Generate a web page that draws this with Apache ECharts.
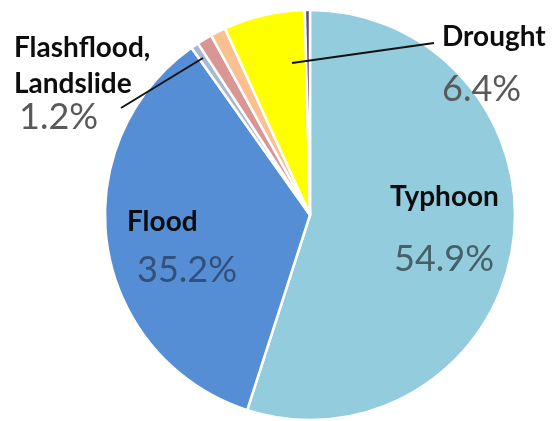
<!DOCTYPE html>
<html>
<head>
<meta charset="utf-8">
<script src="https://cdn.jsdelivr.net/npm/echarts@6/dist/echarts.min.js"></script>
<style>
html,body{margin:0;padding:0;background:#fff;}
#chart{width:554px;height:421px;}
</style>
</head>
<body>
<div id="chart"></div>
<script>
// Data (clockwise from 12 o'clock)
const categories = ['Typhoon', 'Flood', 'Other hazard', 'Flashflood, Landslide', 'Storm surge', 'Drought', 'Other'];
const values = [54.9, 35.2, 0.6, 1.2, 1.2, 6.4, 0.4];
const valueLabels = ['54.9%', '35.2%', '', '1.2%', '', '6.4%', ''];
const shownLabels = ['Typhoon', 'Flood', 'Flashflood, Landslide', 'Drought'];

const colors = ['#93CDDD', '#558ED5', '#A7B9D1', '#D99694', '#FAC090', '#FFFF00', '#604A7B'];

// Label placement (layout only)
const layouts = {
  'Typhoon': { x: 390, y: 179, pad: 4, gapLH: 88 },
  'Flood': { x: 127, y: 204, pad: 10, gapLH: 60 },
  'Flashflood, Landslide': { x: 14, y: 30, pad: 5, gapLH: 30,
    line: [[203, 58], [162, 83], [121, 108]] },
  'Drought': { x: 442, y: 19, pad: 0, gapLH: 68,
    line: [[292, 63], [363, 53], [434, 43]] }
};
const layoutKeys = Object.keys(layouts);

const chart = echarts.init(document.getElementById('chart'), null, { renderer: 'canvas' });

function buildData(forLabels) {
  return categories.map((name, i) => {
    const show = shownLabels.indexOf(name) >= 0;
    const inside = (name === 'Typhoon' || name === 'Flood');
    return {
      name: name,
      value: values[i],
      itemStyle: forLabels ? { color: 'rgba(0,0,0,0)', borderWidth: 0 } : { color: colors[i] },
      label: { show: forLabels && show, position: inside ? 'inside' : 'outside' },
      labelLine: { show: forLabels && show && !inside }
    };
  });
}

function makeRich() {
  const rich = {
    n: { fontFamily: 'Lato', fontWeight: 'bold', fontSize: 28, color: '#0d0d0d', lineHeight: 36 }
  };
  layoutKeys.forEach((k, idx) => {
    const L = layouts[k];
    rich['v' + idx] = {
      fontFamily: 'Lato', fontSize: 36,
      color: k === 'Flood' ? '#34507a' : (k === 'Typhoon' ? '#475f69' : '#595959'),
      lineHeight: L.gapLH, padding: [0, 0, 0, L.pad]
    };
  });
  return rich;
}

const common = {
  type: 'pie',
  center: [310, 215],
  radius: [0, 205],
  startAngle: 90,
  clockwise: true,
  avoidLabelOverlap: false,
  silent: true
};

chart.setOption({
  backgroundColor: '#ffffff',
  animation: false,
  series: [
    Object.assign({}, common, {
      z: 1,
      itemStyle: { borderColor: '#ffffff', borderWidth: 2.5 },
      label: { show: false },
      labelLine: { show: false },
      data: buildData(false)
    }),
    Object.assign({}, common, {
      z: 5,
      itemStyle: { color: 'rgba(0,0,0,0)', borderWidth: 0 },
      label: {
        align: 'left',
        verticalAlign: 'top',
        formatter: function (p) {
          const idx = layoutKeys.indexOf(p.name);
          const lines = p.name.split(', ');
          const nameText = lines.map((s, j) => '{n|' + s + (j < lines.length - 1 ? ',' : '') + '}').join('\n');
          return nameText + '\n{v' + idx + '|' + valueLabels[p.dataIndex] + '}';
        },
        rich: makeRich()
      },
      labelLine: {
        show: true,
        lineStyle: { color: '#111111', width: 2 }
      },
      labelLayout: function (params) {
        const name = categories[params.dataIndex];
        const L = layouts[name];
        if (!L) return {};
        const out = { x: L.x, y: L.y, align: 'left', verticalAlign: 'top' };
        if (L.line) out.labelLinePoints = L.line;
        return out;
      },
      data: buildData(true)
    })
  ]
});
</script>
</body>
</html>
